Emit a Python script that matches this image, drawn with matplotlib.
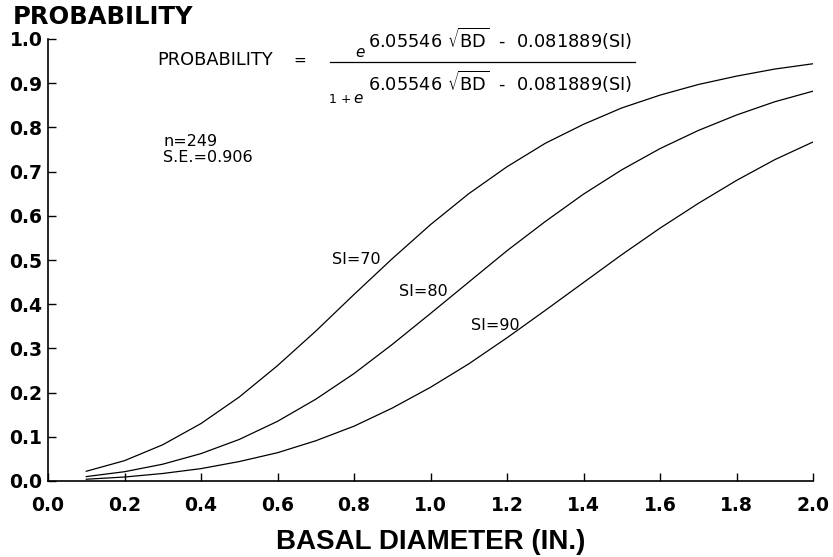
import matplotlib
matplotlib.use("Agg")
import matplotlib.pyplot as plt
from matplotlib.lines import Line2D

# basal diameter (in.) and probability
bd = [0.1, 0.2, 0.3, 0.4, 0.5, 0.6, 0.7, 0.8, 0.9, 1.0,
      1.1, 1.2, 1.3, 1.4, 1.5, 1.6, 1.7, 1.8, 1.9, 2.0]
si70 = [0.022, 0.046, 0.082, 0.130, 0.190, 0.261, 0.339, 0.422, 0.503, 0.580,
        0.650, 0.711, 0.764, 0.807, 0.844, 0.873, 0.897, 0.916, 0.932, 0.944]
si80 = [0.010, 0.021, 0.038, 0.062, 0.094, 0.135, 0.185, 0.243, 0.309, 0.379,
        0.450, 0.521, 0.587, 0.649, 0.704, 0.752, 0.793, 0.828, 0.858, 0.882]
si90 = [0.004, 0.009, 0.017, 0.028, 0.044, 0.064, 0.091, 0.124, 0.165, 0.212,
        0.265, 0.324, 0.386, 0.449, 0.512, 0.572, 0.628, 0.680, 0.727, 0.767]

xticks = [0.0, 0.2, 0.4, 0.6, 0.8, 1.0, 1.2, 1.4, 1.6, 1.8, 2.0]
yticks = [0.0, 0.1, 0.2, 0.3, 0.4, 0.5, 0.6, 0.7, 0.8, 0.9, 1.0]

plt.rcParams['font.family'] = ['DejaVu Sans']
plt.rcParams['mathtext.fontset'] = 'dejavusans'

W, H = 833, 557
fig = plt.figure(figsize=(W / 100, H / 100), dpi=100)
ax = fig.add_axes([48 / W, 76 / H, 765 / W, 442 / H])

def px(x, y):
    return x / W, 1 - y / H

for ys in (si70, si80, si90):
    ax.plot(bd, ys, color='black', lw=0.9)

ax.set_xlim(0, 2.0)
ax.set_ylim(0, 1.0)
ax.set_xticks(xticks)
ax.set_yticks(yticks)
ax.set_xticklabels([f"{v:.1f}" for v in xticks])
ax.set_yticklabels([f"{v:.1f}" for v in yticks])
for s in ('top', 'right'):
    ax.spines[s].set_visible(False)
for s in ('left', 'bottom'):
    ax.spines[s].set_linewidth(1.2)
ax.tick_params(axis='both', direction='in', length=6, width=1.0,
               labelsize=13.5)
ax.tick_params(axis='x', pad=11)
ax.tick_params(axis='y', pad=4)
for lab in ax.get_xticklabels() + ax.get_yticklabels():
    lab.set_fontweight('bold')

ax.set_xlabel('BASAL DIAMETER (IN.)', fontsize=20, fontweight='bold',
              family='Liberation Sans', labelpad=10)
fig.text(*px(13, 17), 'PROBABILITY', fontsize=17.5, fontweight='bold',
         ha='left', va='center')

# curve labels and stats
ax.text(0.742, 0.502, 'SI=70', fontsize=11.5, va='center')
ax.text(0.918, 0.428, 'SI=80', fontsize=11.5, va='center')
ax.text(1.106, 0.351, 'SI=90', fontsize=11.5, va='center')
ax.text(0.303, 0.769, 'n=249', fontsize=11.5, va='center')
ax.text(0.301, 0.731, 'S.E.=0.906', fontsize=11.5, va='center')

# equation
expo = r'6.05546 $\sqrt{\mathrm{BD}}$  -  0.081889(SI)'
fig.text(*px(157, 60), 'PROBABILITY', fontsize=12.8, ha='left', va='center')
fig.text(*px(300, 60), '=', fontsize=11, ha='center', va='center')
fig.add_artist(Line2D([330 / W, 635 / W], [1 - 62 / H, 1 - 62 / H],
                      color='black', lw=0.9))
fig.text(*px(355, 57), 'e', fontsize=11, style='italic', ha='left', va='baseline')
fig.text(*px(368, 48), expo, fontsize=12.8, ha='left', va='baseline')
fig.text(*px(329, 103), '1 +', fontsize=9, ha='left', va='baseline')
fig.text(*px(353, 103), 'e', fontsize=11, style='italic', ha='left', va='baseline')
fig.text(*px(368, 91), expo, fontsize=12.8, ha='left', va='baseline')

fig.savefig('out.png', dpi=100)
